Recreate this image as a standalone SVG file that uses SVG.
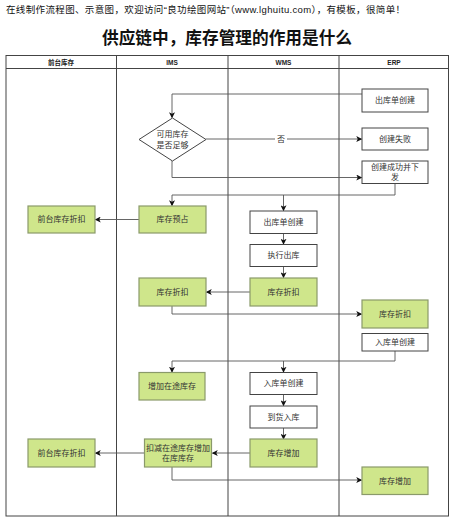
<svg xmlns="http://www.w3.org/2000/svg" width="451" height="518" viewBox="0 0 451 518">
<defs>
<style>
text{font-family:"Liberation Sans","Noto Sans CJK SC",sans-serif;fill:#333}
.hd{font-size:9.5px;fill:#111}
.title{font-size:17px;font-weight:bold;fill:#111}
.lane{font-size:6.5px;font-weight:bold;fill:#222}
.n{font-size:8px;text-anchor:middle;dominant-baseline:central}
.w{fill:#fff;stroke:#444;stroke-width:1}
.g{fill:#cfe68b;stroke:#8a9a6a;stroke-width:1.2}
.frame{fill:none;stroke:#444;stroke-width:1}
.c{fill:none;stroke:#555;stroke-width:0.9}
</style>
<marker id="a" viewBox="0 0 8 8" refX="7" refY="4" markerWidth="6" markerHeight="6" orient="auto" markerUnits="userSpaceOnUse"><path d="M0,0 L8,4 L0,8 L2,4 Z" fill="#111"/></marker>
</defs>
<rect width="451" height="518" fill="#fff"/>
<text class="hd" x="6" y="13" textLength="399" lengthAdjust="spacing">在线制作流程图、示意图，欢迎访问“良功绘图网站”（www.lghuitu.com），有模板，很简单！</text>
<text class="title" x="227" y="43.5" text-anchor="middle" textLength="250" lengthAdjust="spacingAndGlyphs">供应链中，库存管理的作用是什么</text>
<g id="pool">
<rect class="frame" x="6" y="55.5" width="442.5" height="460.5"/>
<line class="frame" x1="6" y1="68.5" x2="448.5" y2="68.5"/>
<line class="frame" x1="116.5" y1="55.5" x2="116.5" y2="516"/>
<line class="frame" x1="228" y1="55.5" x2="228" y2="516"/>
<line class="frame" x1="339" y1="55.5" x2="339" y2="516"/>
<text class="lane" x="61" y="64.5" text-anchor="middle">前台库存</text>
<text class="lane" x="172" y="64.5" text-anchor="middle">IMS</text>
<text class="lane" x="283.5" y="64.5" text-anchor="middle">WMS</text>
<text class="lane" x="394" y="64.5" text-anchor="middle">ERP</text>
</g>
<g id="connectors">
<path class="c" d="M362,94 H172 V117.5" marker-end="url(#a)"/>
<path class="c" d="M206,139 H361.5" marker-end="url(#a)"/>
<rect x="275" y="134" width="12" height="10" fill="#fff"/>
<text class="n" x="281" y="139">否</text>
<path class="c" d="M172,161 V177.5 H361.5" marker-end="url(#a)"/>
<path class="c" d="M395,183.5 V195 H172 V205.5" marker-end="url(#a)"/>
<path class="c" d="M283.5,195 V210.5" marker-end="url(#a)"/>
<path class="c" d="M139,219.5 H95.5" marker-end="url(#a)"/>
<path class="c" d="M283.5,233.5 V244" marker-end="url(#a)"/>
<path class="c" d="M283.5,266.5 V277.5" marker-end="url(#a)"/>
<path class="c" d="M250,292 H206.5" marker-end="url(#a)"/>
<path class="c" d="M172,306 V314 H361.5" marker-end="url(#a)"/>
<path class="c" d="M395,351 V361 H172 V372" marker-end="url(#a)"/>
<path class="c" d="M283.5,361 V372" marker-end="url(#a)"/>
<path class="c" d="M283.5,394.5 V405.5" marker-end="url(#a)"/>
<path class="c" d="M283.5,428 V439" marker-end="url(#a)"/>
<path class="c" d="M250,453 H212.5" marker-end="url(#a)"/>
<path class="c" d="M144,453 H95.5" marker-end="url(#a)"/>
<path class="c" d="M172,467 V480 H361.5" marker-end="url(#a)"/>
</g>
<g id="n1"><rect class="w" x="362" y="89" width="66" height="23"/><text class="n" x="395" y="100.5">出库单创建</text></g>
<g id="n2"><polygon class="w" points="172.5,118 206,139.5 172.5,161 139,139.5"/><text class="n" x="172.5" y="134.5">可用库存</text><text class="n" x="172.5" y="145">是否足够</text></g>
<g id="n3"><rect class="w" x="362" y="128" width="66" height="22"/><text class="n" x="395" y="139">创建失败</text></g>
<g id="n4"><rect class="w" x="362" y="161" width="66" height="22.5"/><text class="n" x="395" y="167.5">创建成功并下</text><text class="n" x="395" y="177">发</text></g>
<g id="n5"><rect class="g" x="139" y="206" width="67" height="27"/><text class="n" x="172.5" y="219.5">库存预占</text></g>
<g id="n6"><rect class="g" x="28" y="206" width="67" height="27"/><text class="n" x="61.5" y="219.5">前台库存折扣</text></g>
<g id="n7"><rect class="w" x="250" y="211" width="67" height="22.5"/><text class="n" x="283.5" y="222">出库单创建</text></g>
<g id="n8"><rect class="w" x="250" y="244.5" width="67" height="22"/><text class="n" x="283.5" y="255.5">执行出库</text></g>
<g id="n9"><rect class="g" x="250" y="278" width="67" height="28"/><text class="n" x="283.5" y="292">库存折扣</text></g>
<g id="n10"><rect class="g" x="139" y="278" width="67" height="28"/><text class="n" x="172.5" y="292">库存折扣</text></g>
<g id="n11"><rect class="g" x="362" y="300" width="66" height="28"/><text class="n" x="395" y="314">库存折扣</text></g>
<g id="n12"><rect class="w" x="362" y="333.5" width="66" height="17.5"/><text class="n" x="395" y="342">入库单创建</text></g>
<g id="n13"><rect class="g" x="139" y="372.5" width="66" height="27.5"/><text class="n" x="172" y="386">增加在途库存</text></g>
<g id="n14"><rect class="w" x="250" y="372.5" width="67" height="22"/><text class="n" x="283.5" y="383.5">入库单创建</text></g>
<g id="n15"><rect class="w" x="250" y="406" width="67" height="22"/><text class="n" x="283.5" y="417">到货入库</text></g>
<g id="n16"><rect class="g" x="250" y="439" width="67" height="28"/><text class="n" x="283.5" y="453">库存增加</text></g>
<g id="n17"><rect class="g" x="144.5" y="439" width="67" height="28"/><text class="n" x="178" y="448">扣减在途库存增加</text><text class="n" x="178" y="458.5">在库库存</text></g>
<g id="n18"><rect class="g" x="28" y="439" width="67" height="28"/><text class="n" x="61.5" y="453">前台库存折扣</text></g>
<g id="n19"><rect class="g" x="362" y="467" width="66" height="27.5"/><text class="n" x="395" y="481">库存增加</text></g>
</svg>
